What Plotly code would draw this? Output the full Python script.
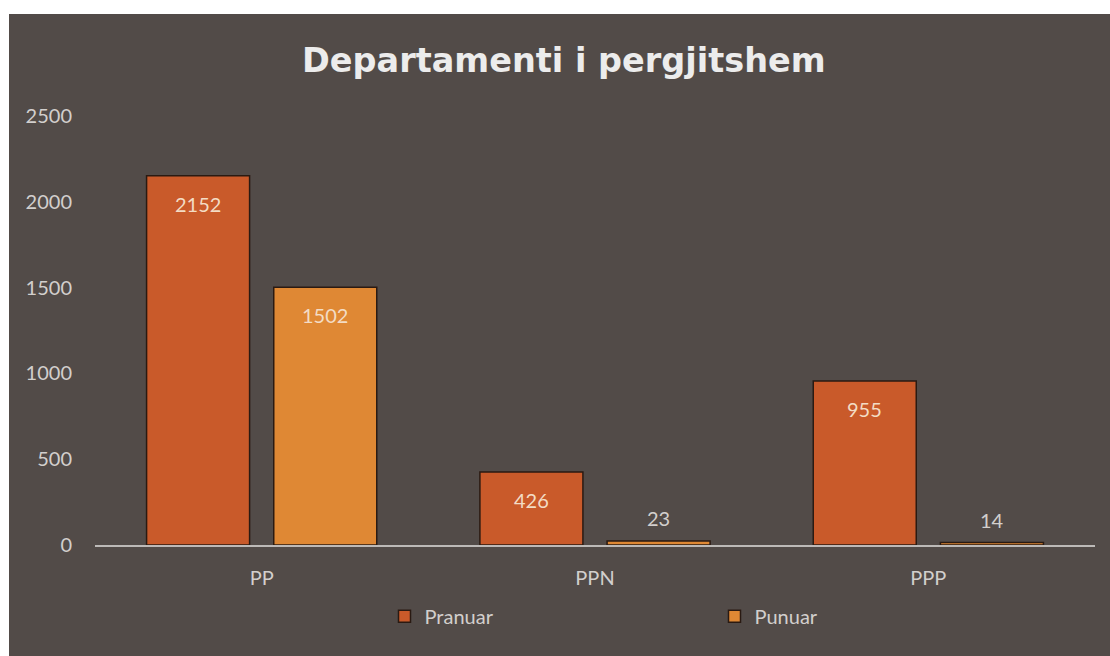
import plotly.graph_objects as go

categories = ["PP", "PPN", "PPP"]
pranuar = [2152, 426, 955]
punuar = [1502, 23, 14]
y_ticks = [0, 500, 1000, 1500, 2000, 2500]

BG = "#524b48"
C1 = "#c95a2a"
C2 = "#df8834"
TXT = "#d2cfcd"
LBL = "#f3dcc4"
FONT = "Lato"

fig = go.Figure()
series = [("Pranuar", pranuar, C1, -63.5), ("Punuar", punuar, C2, 63.5)]
for name, vals, col, _ in series:
    fig.add_trace(go.Bar(
        x=categories, y=vals, name=name,
        marker=dict(color=col, line=dict(color="#2a1a12", width=1.5)),
        hoverinfo="x+y+name",
    ))

annotations = []
for name, vals, col, dx in series:
    for cat, v in zip(categories, vals):
        inside = v > 200
        annotations.append(dict(
            x=cat, y=v, xref="x", yref="y", text=str(v), showarrow=False,
            xshift=dx, yshift=-28 if inside else 23,
            font=dict(family=FONT, size=20, color=LBL if inside else TXT),
        ))

fig.update_layout(
    width=1110, height=656,
    paper_bgcolor=BG, plot_bgcolor=BG,
    margin=dict(l=95, r=15, t=116, b=111),
    barmode="group", bargap=0.237, bargroupgap=0.19,
    title=dict(text="<b>Departamenti i pergjitshem</b>", x=0.508, xanchor="center",
               y=0.908, yanchor="middle",
               font=dict(family="DejaVu Sans", size=33.5, color="#ececec")),
    xaxis=dict(showgrid=False, showline=True, linecolor="#bdbab8", linewidth=2,
               ticks="", tickfont=dict(family=FONT, size=20, color=TXT), ticklabelstandoff=14),
    yaxis=dict(range=[0, 2500], tickvals=y_ticks, showgrid=False, zeroline=False,
               showline=False, ticks="", ticklabelstandoff=22,
               tickfont=dict(family=FONT, size=20, color=TXT)),
    legend=dict(orientation="h", x=0.2895, y=-0.166, xanchor="left", yanchor="middle",
                entrywidth=285, entrywidthmode="pixels",
                font=dict(family=FONT, size=20, color=TXT), bgcolor="rgba(0,0,0,0)"),
    showlegend=True,
    annotations=annotations,
    shapes=[
        dict(type="rect", xref="paper", yref="paper", x0=-0.2, x1=-0.086, y0=-1, y1=2,
             fillcolor="white", line=dict(width=0), layer="above"),
        dict(type="rect", xref="paper", yref="paper", x0=-0.2, x1=1.2, y0=1.238, y1=2,
             fillcolor="white", line=dict(width=0), layer="above"),
    ],
)

fig.write_html("out.html", config={"displayModeBar": False},
               post_script="document.body.style.margin='0';")
